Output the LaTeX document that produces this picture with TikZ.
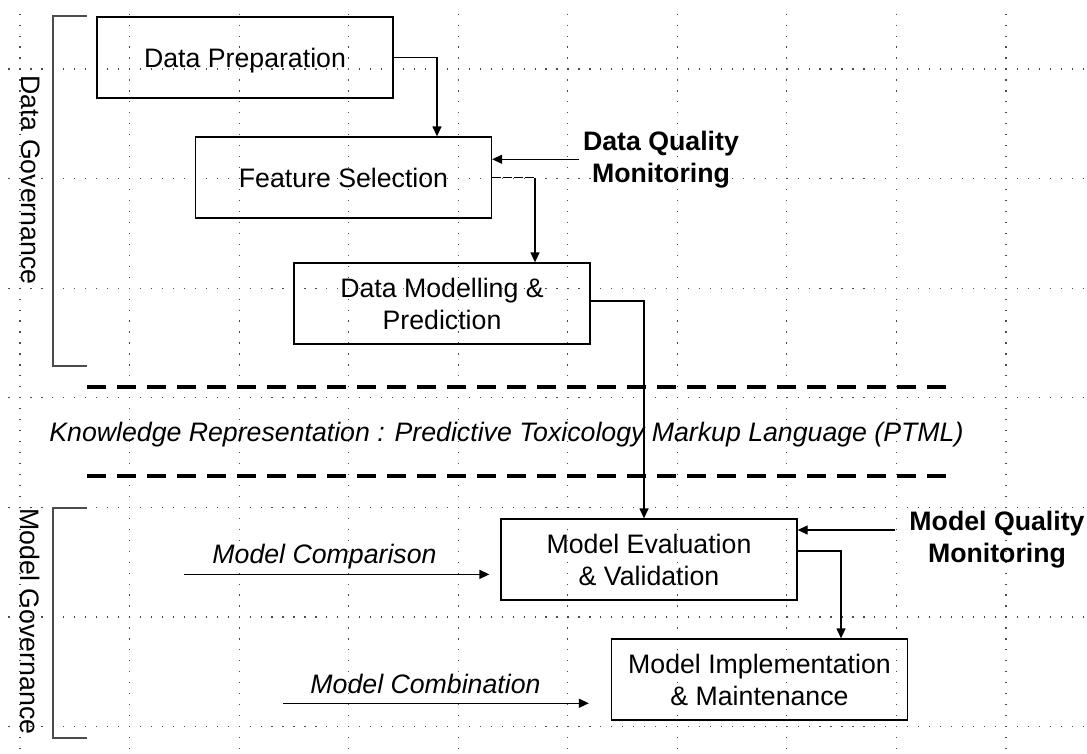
\documentclass[tikz,border=0pt]{standalone}
\usepackage{fontspec}
\setmainfont{Liberation Sans}
\usetikzlibrary{arrows.meta,calc}
\newcommand\diagfont{\fontsize{26.7}{32}\selectfont}
\begin{document}
\begin{tikzpicture}[x=1pt,y=-1pt,
  every node/.style={font=\diagfont},
  gridline/.style={line width=1.2pt, black!70, dash pattern=on 1.2pt off 9.76pt},
  stepbox/.style={draw, line width=1.3pt, minimum width=296pt, minimum height=81pt,
    inner sep=0pt, align=center},
  monitor/.style={font=\diagfont\bfseries, align=center, inner sep=4pt},
  flowlabel/.style={font=\diagfont\itshape, inner sep=4pt, text depth=0pt},
  govlabel/.style={rotate=-90, inner sep=2pt, text depth=0pt},
  arr/.style={-{Triangle[length=10pt,width=9pt]}, line width=1.3pt},
  gridgap/.style={line width=1.3pt, dash pattern=on 9pt off 2pt},
  bracket/.style={line width=2pt, black!70},
  separator/.style={line width=4pt, dash pattern=on 19pt off 11pt}]

\useasboundingbox (0,0) rectangle (1087,753);
\fill[white] (0,0) rectangle (1087,753);

% dotted page grid
\foreach \k in {0,...,9}
  \draw[gridline] ({20+109.55*\k},13.6) -- ({20+109.55*\k},753);
\foreach \m in {0,...,6}
  \draw[gridline] (8.45,{69+109.6*\m}) -- (1087,{69+109.6*\m});

% governance brackets
\draw[bracket] (86.7,16) -| (52.7,366) -- (86.7,366);
\draw[bracket] (86.7,508.3) -| (52.7,738) -- (86.7,738);
\node[govlabel] (DG) at (30.5,180) {Data Governance};
\node[govlabel] (MG) at (30.5,621.5) {Model Governance};

% knowledge representation band
\draw[separator] (87,387) -- (951,387);
\draw[separator] (87,476) -- (951,476);
\node[flowlabel] (KR) at (506.5,431.5)
  {Knowledge Representation : Predictive Toxicology Markup Language (PTML)};

% process steps
\node[stepbox, text depth=0pt] (DP) at (245,57.5) {Data Preparation};
\node[stepbox] (FS) at (343.5,177.5) {Feature Selection};
\node[stepbox] (DM) at (442,303.5) {Data Modelling \&\\Prediction};
\node[stepbox] (ME) at (649,559.5) {Model Evaluation\\\& Validation};
\node[stepbox] (MI) at (759.5,679.5) {Model Implementation\\\& Maintenance};

% monitoring and side labels
\node[monitor] (DQM) at (661,159.25) {Data Quality\\Monitoring};
\node[monitor] (MQM) at (997,540) {Model Quality\\Monitoring};
\node[flowlabel] (MCMP) at (324.5,553.5) {Model Comparison};
\node[flowlabel] (MCMB) at (425.5,683.7) {Model Combination};

% connectors
\coordinate (fsin) at ($(FS.north)+(93.5,0)$);
\draw[arr] (DP.east) -| (fsin);

\draw[arr] (DQM.west) -- (DQM.west -| FS.east);

\coordinate (dmin) at ($(DM.north)+(93,0)$);
\draw[gridgap] (FS.east) -- (FS.east -| dmin);
\draw[arr] (FS.east -| dmin) -- (dmin);

\coordinate (mein) at ($(ME.north)+(-5,0)$);
\draw[arr] ($(DM.east)+(0,-2.5)$) -| (mein);

\coordinate (mqmout) at ($(MQM.west)+(-10,-10)$);
\draw[arr] (mqmout) -- (mqmout -| ME.east);

\coordinate (miin) at ($(MI.north)+(81.5,0)$);
\draw[arr] ($(ME.east)+(0,-8.5)$) -| (miin);

\coordinate (cmpstart) at ($(MCMP.south west)+(-24,7)$);
\draw[arr, shorten >=11pt] (cmpstart) -- (cmpstart -| ME.west);

\coordinate (cmbstart) at ($(MCMB.south west)+(-23,5.7)$);
\draw[arr, shorten >=22pt] (cmbstart) -- (cmbstart -| MI.west);
\end{tikzpicture}
\end{document}
